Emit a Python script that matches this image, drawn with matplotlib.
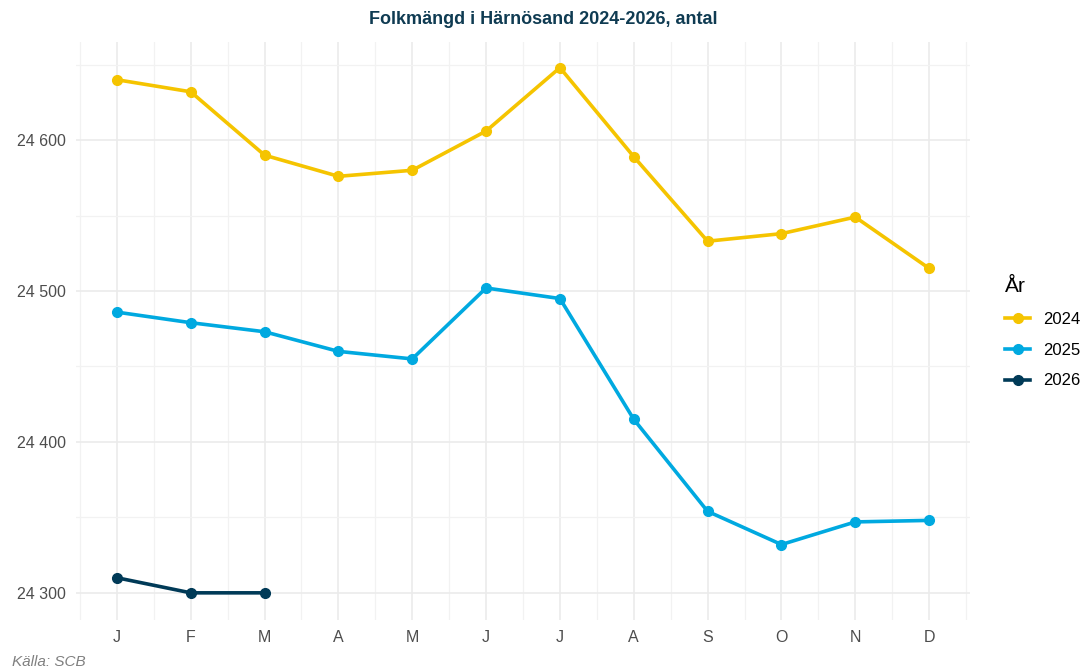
import matplotlib.pyplot as plt
from matplotlib.ticker import FuncFormatter, MultipleLocator
from matplotlib.lines import Line2D

plt.rcParams['font.family'] = ['Liberation Sans', 'DejaVu Sans']

months = ['J', 'F', 'M', 'A', 'M', 'J', 'J', 'A', 'S', 'O', 'N', 'D']
pop_2024 = [24640, 24632, 24590, 24576, 24580, 24606, 24648, 24589, 24533, 24538, 24549, 24515]
pop_2025 = [24486, 24479, 24473, 24460, 24455, 24502, 24495, 24415, 24354, 24332, 24347, 24348]
pop_2026 = [24310, 24300, 24300]
years = ['2024', '2025', '2026']
colors = ['#F5C400', '#00A9E0', '#003A57']

fig = plt.figure(figsize=(10.86, 6.72), dpi=100)
ax = fig.add_axes([76/1086, 52/672, 894/1086, 578/672])

x = list(range(1, 13))
series = [pop_2024, pop_2025, pop_2026]
for vals, c, lab in zip(series, colors, years):
    ax.plot(x[:len(vals)], vals, '-o', color=c, lw=2.6, ms=7, label=lab,
            solid_capstyle='butt', zorder=3)

ax.set_xlim(0.446, 12.554)
ax.set_ylim(24282, 24665)
ax.set_xticks(x)
ax.set_xticklabels(months)
ax.set_xticks([i + 0.5 for i in range(0, 13)], minor=True)
ax.yaxis.set_major_locator(MultipleLocator(100))
ax.yaxis.set_minor_locator(MultipleLocator(50))
ax.yaxis.set_major_formatter(FuncFormatter(lambda v, p: f'{int(v):,}'.replace(',', ' ')))

ax.grid(True, which='major', color='#EBEBEB', lw=1.2)
ax.grid(True, which='minor', color='#F2F2F2', lw=0.9)
for s in ax.spines.values():
    s.set_visible(False)
ax.tick_params(which='both', length=0)
ax.tick_params(axis='both', labelsize=11.5, colors='#4D4D4D', pad=7)

fig.text(0.5, 1 - 20/672, 'Folkmängd i Härnösand 2024-2026, antal', ha='center', va='center',
         fontsize=13, fontweight='bold', color='#0F3B52')
fig.text(12/1086, 1 - 662/672, 'Källa: SCB', ha='left', va='center',
         fontsize=11, style='italic', color='#808080')

handles = [Line2D([0], [0], color=c, lw=2.6, marker='o', ms=7) for c in colors]
leg = fig.legend(handles, years, title='År', loc='upper left',
                 bbox_to_anchor=(990/1086, 1 - 262/672), frameon=False,
                 fontsize=12, title_fontsize=15, handlelength=1.5,
                 handletextpad=0.8, labelspacing=0.95, alignment='left')

fig.savefig('out.png', dpi=100)
